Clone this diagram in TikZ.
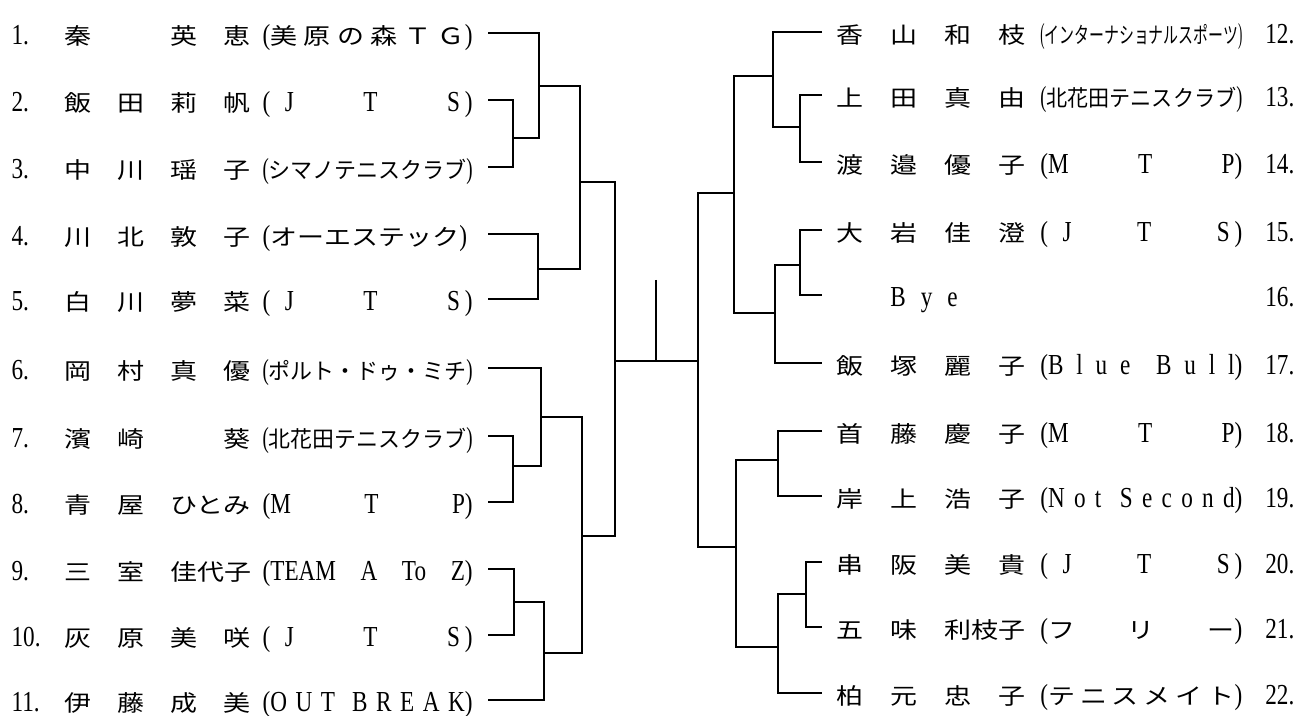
\documentclass[tikz,border=0pt]{standalone}
\usepackage{fontspec}
\usepackage{graphicx}
\setmainfont[FakeStretch=0.8]{Liberation Serif}
\newfontfamily\jpfont[FakeStretch=1.2]{Noto Sans CJK JP}

\newlength{\colw}\setlength{\colw}{10.6mm}
\newlength{\lastw}\setlength{\lastw}{7.8mm}
\newlength{\clubw}\setlength{\clubw}{42mm}
\newcommand{\jp}[1]{{\jpfont\fontsize{12.8}{15}\selectfont #1}}
\newcommand{\lat}{\rmfamily\fontsize{16.5}{18}\selectfont}
\newcommand{\nm}[4]{\makebox[\colw][l]{\jp{#1}}\makebox[\colw][l]{\jp{#2}}\makebox[\colw][l]{\jp{#3}}\makebox[\lastw][l]{\jp{#4}}}
\newcommand{\club}[1]{\makebox[\clubw][s]{#1}}
\newcommand{\clubfit}[1]{\resizebox{\clubw}{\height}{#1}}

\begin{document}
\begin{tikzpicture}[x=0.2mm, y=-0.2mm,
  % Entry styles
  playerleft/.style={
    anchor=east,
    inner xsep=3mm,
    inner ysep=0pt,
    text height=4.6mm,
    text depth=0pt,
    font=\lat
  },
  playerright/.style={
    anchor=west,
    inner xsep=2.8mm,
    inner ysep=0pt,
    text height=4.6mm,
    text depth=0pt,
    font=\lat
  },
  tieline/.style={
    line width=0.9pt,
    draw=black
  }
]
\useasboundingbox (0,0) rectangle (1307,716);

% ===== LEFT HALF =====
\node[playerleft] (e1) at (488,33) {\makebox[\colw][l]{1.}\nm{秦}{}{英}{恵}\club{(\jp{美 原 の 森 Ｔ Ｇ})}};
\node[playerleft] (e2) at (488,100) {\makebox[\colw][l]{2.}\nm{飯}{田}{莉}{帆}\club{(\enspace J\hfill T\hfill S\,)}};
\node[playerleft] (e3) at (488,167) {\makebox[\colw][l]{3.}\nm{中}{川}{瑶}{子}\clubfit{(\jp{シマノテニスクラブ})}};
\node[playerleft] (e4) at (488,234) {\makebox[\colw][l]{4.}\nm{川}{北}{敦}{子}\club{(\jp{オーエステック})}};
\node[playerleft] (e5) at (488,299) {\makebox[\colw][l]{5.}\nm{白}{川}{夢}{菜}\club{(\enspace J\hfill T\hfill S\,)}};
\node[playerleft] (e6) at (488,368) {\makebox[\colw][l]{6.}\nm{岡}{村}{真}{優}\clubfit{(\jp{ポルト・ドゥ・ミチ})}};
\node[playerleft] (e7) at (488,436) {\makebox[\colw][l]{7.}\nm{濱}{崎}{}{葵}\clubfit{(\jp{北花田テニスクラブ})}};
\node[playerleft] (e8) at (488,502) {\makebox[\colw][l]{8.}\nm{青}{屋}{ひとみ}{}\club{(M\hfill T\hfill P)}};
\node[playerleft] (e9) at (488,569) {\makebox[\colw][l]{9.}\nm{三}{室}{佳代子}{}\club{(TEAM A To Z)}};
\node[playerleft] (e10) at (488,635) {\makebox[\colw][l]{10.}\nm{灰}{原}{美}{咲}\club{(\enspace J\hfill T\hfill S\,)}};
\node[playerleft] (e11) at (488,700) {\makebox[\colw][l]{11.}\nm{伊}{藤}{成}{美}\club{(O U T\ \ B R E A K)}};

\coordinate (j23) at (513,138);
\coordinate (j123) at (539,86);
\coordinate (j45) at (538,269);
\coordinate (j15) at (580,182);
\coordinate (j78) at (513,466);
\coordinate (j68) at (541,417);
\coordinate (j910) at (514,602);
\coordinate (j911) at (544,653);
\coordinate (j611) at (582,536);
\coordinate (jL) at (615,361);

\draw[tieline] (e2.east) -| (j23) |- (e3.east);
\draw[tieline] (e1.east) -| (j123) |- (j23);
\draw[tieline] (e4.east) -| (j45) |- (e5.east);
\draw[tieline] (j123) -| (j15) |- (j45);
\draw[tieline] (e7.east) -| (j78) |- (e8.east);
\draw[tieline] (e6.east) -| (j68) |- (j78);
\draw[tieline] (e9.east) -| (j910) |- (e10.east);
\draw[tieline] (j910) -| (j911) |- (e11.east);
\draw[tieline] (j68) -| (j611) |- (j911);
\draw[tieline] (j15) -| (jL) |- (j611);

% ===== RIGHT HALF =====
\setlength{\colw}{10.8mm}\setlength{\lastw}{8.4mm}\setlength{\clubw}{40.4mm}
\node[playerright] (e12) at (822,32) {\nm{香}{山}{和}{枝}\clubfit{(\jp{インターナショナルスポーツ})}\hspace{4.6mm}12.};
\node[playerright] (e13) at (822,95) {\nm{上}{田}{真}{由}\clubfit{(\jp{北花田テニスクラブ})}\hspace{4.6mm}13.};
\node[playerright] (e14) at (822,162) {\nm{渡}{邉}{優}{子}\club{(M\hfill T\hfill P)}\hspace{4.6mm}14.};
\node[playerright] (e15) at (822,230) {\nm{大}{岩}{佳}{澄}\club{(\enspace J\hfill T\hfill S\,)}\hspace{4.6mm}15.};
\node[playerright] (e16) at (822,295) {\nm{}{\lat B\hspace{3mm}y\hspace{3mm}e}{}{}\club{}\hspace{4.6mm}16.};
\node[playerright] (e17) at (822,363) {\nm{飯}{塚}{麗}{子}\club{(B l u e\ \ B u l l)}\hspace{4.6mm}17.};
\node[playerright] (e18) at (822,431) {\nm{首}{藤}{慶}{子}\club{(M\hfill T\hfill P)}\hspace{4.6mm}18.};
\node[playerright] (e19) at (822,496) {\nm{岸}{上}{浩}{子}\club{(N o t\ \ S e c o n d)}\hspace{4.6mm}19.};
\node[playerright] (e20) at (822,562) {\nm{串}{阪}{美}{貴}\club{(\enspace J\hfill T\hfill S\,)}\hspace{4.6mm}20.};
\node[playerright] (e21) at (822,627) {\nm{五}{味}{利枝子}{}\club{(\jp{フ}\hfill\jp{リ}\hfill\jp{ー})}\hspace{4.6mm}21.};
\node[playerright] (e22) at (822,693) {\nm{柏}{元}{忠}{子}\club{(\jp{テ ニ ス メ イ ト})}\hspace{4.6mm}22.};

\coordinate (j1314) at (800,127);
\coordinate (j1214) at (773,76);
\coordinate (j1516) at (800,265);
\coordinate (j1517) at (775,313);
\coordinate (j1217) at (734,193);
\coordinate (j1819) at (778,460);
\coordinate (j2021) at (806,594);
\coordinate (j2022) at (778,647);
\coordinate (j1822) at (736,547);
\coordinate (jR) at (698,361);

\draw[tieline] (e13.west) -| (j1314) |- (e14.west);
\draw[tieline] (e12.west) -| (j1214) |- (j1314);
\draw[tieline] (e15.west) -| (j1516) |- (e16.west);
\draw[tieline] (j1516) -| (j1517) |- (e17.west);
\draw[tieline] (j1214) -| (j1217) |- (j1517);
\draw[tieline] (e18.west) -| (j1819) |- (e19.west);
\draw[tieline] (e20.west) -| (j2021) |- (e21.west);
\draw[tieline] (j2021) -| (j2022) |- (e22.west);
\draw[tieline] (j1819) -| (j1822) |- (j2022);
\draw[tieline] (j1217) -| (jR) |- (j1822);

% ===== FINAL =====
\coordinate (champ) at (656,280);
\draw[tieline] (jL) -- (jR);
\draw[tieline] (champ) -- (champ |- jL);

\end{tikzpicture}
\end{document}
